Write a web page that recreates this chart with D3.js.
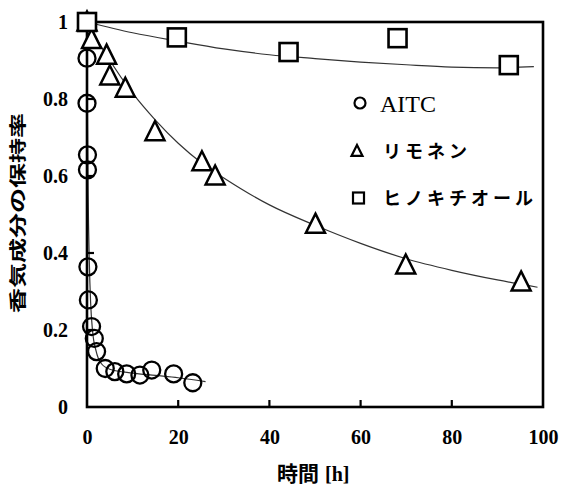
<!DOCTYPE html>
<html><head><meta charset="utf-8">
<script src="https://cdn.jsdelivr.net/npm/d3@7"></script>
<style>body{margin:0;background:#fff}</style>
</head><body>
<svg id="c" width="563" height="486"></svg>
<script>
// ---- data ----
const aitcT = [0, 0, 0, 0.1, 0.1, 0.2, 0.3, 1.0, 1.6, 2.1, 4.0, 6.1, 8.7, 11.6, 14.2, 19.0, 23.2];
const aitcY = [1.0, 0.906, 0.789, 0.655, 0.616, 0.364, 0.278, 0.209, 0.178, 0.144, 0.10, 0.092, 0.086, 0.083, 0.096, 0.086, 0.063];
const limoT = [0, 1, 4.3, 5, 8.4, 14.9, 25.2, 28.1, 50.1, 69.9, 95.2];
const limoY = [1.0, 0.955, 0.914, 0.86, 0.828, 0.715, 0.637, 0.600, 0.475, 0.369, 0.325];
const hinoT = [0, 19.7, 44.2, 68.1, 92.5];
const hinoY = [1.0, 0.960, 0.922, 0.958, 0.888];
// fitted trend curves (traced)
const aitcFitT = [0, 0.1, 0.25, 0.5, 0.8, 1.2, 2, 3, 5, 10, 15, 20, 26];
const aitcFitY = [1.0, 0.75, 0.55, 0.38, 0.27, 0.20, 0.145, 0.115, 0.098, 0.088, 0.082, 0.076, 0.066];
const limoFitT = [0, 5, 10, 15, 20, 25, 30, 40, 50, 60, 70, 80, 90, 98.8];
const limoFitY = [1.0, 0.90, 0.815, 0.745, 0.685, 0.635, 0.595, 0.525, 0.472, 0.425, 0.385, 0.355, 0.33, 0.311];
const hinoFitT = [0, 10, 20, 30, 40, 50, 60, 70, 80, 90, 98];
const hinoFitY = [1.0, 0.972, 0.950, 0.930, 0.915, 0.905, 0.896, 0.889, 0.883, 0.881, 0.884];
const xTicks = [0, 20, 40, 60, 80, 100];
const yTicks = [0, 0.2, 0.4, 0.6, 0.8, 1];
const yTickLabels = ["0", "0.2", "0.4", "0.6", "0.8", "1"];
const legendLabels = ["AITC", "リモネン", "ヒノキチオール"];
const xTitle = "時間";
const xUnit = "[h]";
const yTitle = "香気成分の保持率";

// ---- drawing ----
const svg = d3.select("#c");
const L = 87, R = 543, T = 22, B = 407;
const x = d3.scaleLinear().domain([0, 100]).range([L, R]);
const y = d3.scaleLinear().domain([0, 1]).range([B, T]);
const serif = "'Liberation Serif','Times New Roman',serif";
const jp = "'Noto Sans CJK JP',sans-serif";

// fit curves
const line = d3.line().x(d => x(d[0])).y(d => y(d[1])).curve(d3.curveMonotoneX);
[[aitcFitT, aitcFitY], [limoFitT, limoFitY], [hinoFitT, hinoFitY]].forEach(([t, v]) => {
  svg.append("path").attr("d", line(t.map((d, i) => [d, v[i]])))
    .attr("fill", "none").attr("stroke", "#333").attr("stroke-width", 1.2);
});

// frame
svg.append("rect").attr("x", L).attr("y", T).attr("width", R - L).attr("height", B - T)
  .attr("fill", "none").attr("stroke", "#000").attr("stroke-width", 2.6);

// axes (inward ticks)
const xAxis = d3.axisBottom(x).tickValues(xTicks).tickSize(0).tickPadding(23).tickFormat(d3.format("d"));
const gx = svg.append("g").attr("transform", `translate(0,${B})`).call(xAxis);
gx.select(".domain").remove();
gx.selectAll("text").attr("font-family", serif).attr("font-size", 20).attr("font-weight", "bold").attr("fill", "#000");
svg.append("g").selectAll("line").data(xTicks.filter(d => d > 0 && d < 100)).join("line")
  .attr("x1", d => x(d)).attr("x2", d => x(d)).attr("y1", B).attr("y2", B - 7)
  .attr("stroke", "#000").attr("stroke-width", 2.2);

const yAxis = d3.axisLeft(y).tickValues(yTicks).tickSize(0).tickPadding(19)
  .tickFormat((d, i) => yTickLabels[i]);
const gy = svg.append("g").attr("transform", `translate(${L},0)`).call(yAxis);
gy.select(".domain").remove();
gy.selectAll("text").attr("font-family", serif).attr("font-size", 20).attr("font-weight", "bold").attr("fill", "#000");
svg.append("g").selectAll("line").data(yTicks.filter(d => d > 0 && d < 1)).join("line")
  .attr("x1", L).attr("x2", L + 7).attr("y1", d => y(d)).attr("y2", d => y(d))
  .attr("stroke", "#000").attr("stroke-width", 2.2);

// markers
const tri = (cx, cy, s) => `M${cx},${cy - s * 0.55}L${cx + s / 2},${cy + s * 0.45}L${cx - s / 2},${cy + s * 0.45}Z`;
svg.append("g").selectAll("circle").data(aitcT.map((t, i) => [t, aitcY[i]])).join("circle")
  .attr("cx", d => x(d[0])).attr("cy", d => y(d[1])).attr("r", 8.5)
  .attr("fill", "none").attr("stroke", "#000").attr("stroke-width", 2.3);
svg.append("g").selectAll("path").data(limoT.map((t, i) => [t, limoY[i]])).join("path")
  .attr("d", d => tri(x(d[0]), y(d[1]), 19))
  .attr("fill", "#fff").attr("stroke", "#000").attr("stroke-width", 2.5).attr("stroke-linejoin", "miter");
svg.append("g").selectAll("rect").data(hinoT.map((t, i) => [t, hinoY[i]])).join("rect")
  .attr("x", d => x(d[0]) - 9).attr("y", d => y(d[1]) - 9).attr("width", 18).attr("height", 18)
  .attr("fill", "#fff").attr("stroke", "#000").attr("stroke-width", 2.6);

// legend
const lg = svg.append("g");
const ly = [103, 151, 198];
lg.append("circle").attr("cx", 360).attr("cy", ly[0]).attr("r", 5.5).attr("fill", "none").attr("stroke", "#000").attr("stroke-width", 2.2);
lg.append("path").attr("d", tri(357, ly[1], 11)).attr("fill", "none").attr("stroke", "#000").attr("stroke-width", 2.2);
lg.append("rect").attr("x", 353).attr("y", ly[2] - 5.5).attr("width", 11).attr("height", 11).attr("fill", "none").attr("stroke", "#000").attr("stroke-width", 2.2);
lg.append("text").attr("x", 380).attr("y", ly[0] + 9).text(legendLabels[0])
  .attr("font-family", serif).attr("font-size", 24).attr("fill", "#000");
lg.append("text").attr("x", 383).attr("y", ly[1] + 7).text(legendLabels[1])
  .attr("font-family", jp).attr("font-weight", "bold").attr("font-size", 18).attr("letter-spacing", 4).attr("fill", "#000");
lg.append("text").attr("x", 383).attr("y", ly[2] + 7).text(legendLabels[2])
  .attr("font-family", jp).attr("font-weight", "bold").attr("font-size", 18).attr("letter-spacing", 4).attr("fill", "#000");

// axis titles
const xt = svg.append("text").attr("x", 277).attr("y", 481).attr("fill", "#000");
xt.append("tspan").text(xTitle).attr("font-family", jp).attr("font-weight", "bold").attr("font-size", 21);
xt.append("tspan").text(xUnit).attr("dx", 6).attr("font-family", serif).attr("font-weight", "bold").attr("font-size", 20);

svg.append("text").attr("transform", "translate(24,313) rotate(-90)")
  .attr("textLength", 200).attr("lengthAdjust", "spacingAndGlyphs")
  .attr("font-family", jp).attr("font-weight", "bold").attr("font-size", 17).attr("fill", "#000")
  .text(yTitle);
</script>
</body></html>
